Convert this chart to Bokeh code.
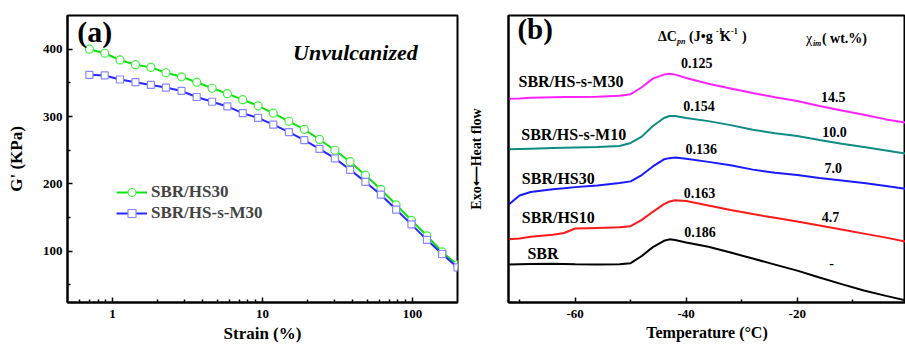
from bokeh.plotting import figure
from bokeh.layouts import row
from bokeh.models import FixedTicker, Legend, LegendItem, Range1d
from bokeh.core.properties import value
from bokeh.embed import file_html
from bokeh.resources import INLINE

# ---------------- Panel (a) data ----------------
strain = [0.70, 0.886, 1.12, 1.42, 1.80, 2.27, 2.88, 3.64, 4.61, 5.83, 7.38, 9.35,
          11.8, 15.0, 19.0, 24.0, 30.4, 38.4, 48.6, 61.6, 77.9, 98.6, 125, 158, 200]
g_hs30 = [400, 394, 384, 377, 373, 365, 359, 351, 342, 334, 325, 316,
          305, 293, 281, 266, 250, 233, 213, 192, 169, 146, 123, 99, 80]
g_hssm30 = [362, 361, 355, 351, 347, 343, 338, 329, 322, 315, 305, 298,
            288, 277, 265, 252, 238, 221, 203, 184, 162, 140, 117, 96, 76]
series_a = ["SBR/HS30", "SBR/HS-s-M30"]
strain_ticks = [1, 10, 100]
strain_minor = [0.6, 0.7, 0.8, 0.9, 2, 3, 4, 5, 6, 7, 8, 9, 20, 30, 40, 50, 60, 70, 80, 90]
g_ticks = [100, 200, 300, 400]
g_minor = [50, 150, 250, 350]

# ---------------- Panel (b) data ----------------
temp = [-72, -70, -68, -64, -62, -60, -56, -52, -50, -48, -46, -44, -43, -42, -40,
        -36, -32, -28, -24, -20, -16, -12, -8, -4, 0]
hf_sbr = [13.2, 13.3, 13.4, 13.5, 13.4, 13.3, 13.2, 13.3, 13.7, 16.2, 19.3, 21.5, 22.0, 21.8, 20.9,
          19.4, 17.4, 15.3, 13.2, 11.1, 8.7, 6.4, 4.2, 2.3, 0.5]
hf_hs10 = [22.0, 22.3, 22.9, 23.6, 24.2, 25.8, 26.0, 26.2, 26.6, 28.8, 31.6, 34.3, 35.2, 35.6, 35.4,
           33.8, 32.2, 30.8, 29.5, 28.2, 26.8, 25.4, 24.0, 22.6, 21.0]
hf_hs30 = [34.1, 37.3, 38.5, 39.5, 39.8, 40.2, 40.8, 41.6, 42.2, 44.4, 47.4, 49.9, 50.3, 50.5, 50.1,
           49.0, 47.8, 46.3, 45.2, 44.4, 43.4, 42.5, 41.6, 40.6, 39.5]
hf_m10 = [53.4, 53.5, 53.6, 53.8, 53.9, 54.0, 54.2, 54.5, 55.6, 57.8, 61.5, 64.3, 65.0, 65.0, 64.3,
          63.2, 61.8, 60.2, 59.0, 58.0, 56.6, 55.3, 54.2, 53.0, 51.7]
hf_m30 = [71.0, 71.1, 71.3, 71.5, 71.6, 71.6, 71.7, 72.0, 72.6, 75.0, 78.0, 79.4, 79.7, 79.4, 78.2,
          76.2, 74.6, 73.0, 71.5, 70.2, 68.5, 66.9, 65.4, 63.8, 62.5]
samples_b = ["SBR", "SBR/HS10", "SBR/HS30", "SBR/HS-s-M10", "SBR/HS-s-M30"]
dcp = ["0.186", "0.163", "0.136", "0.154", "0.125"]
chi = ["-", "4.7", "7.0", "10.0", "14.5"]
temp_ticks = [-60, -40, -20]
temp_tick_labels = ["-60", "-40", "-20"]
temp_minor = [-70, -50, -30, -10]

FONT = "Liberation Serif"


def style(p):
    p.outline_line_color = "black"
    p.outline_line_width = 2
    p.xgrid.visible = False
    p.ygrid.visible = False
    for ax in p.axis:
        ax.axis_line_width = 2
        ax.major_tick_in = 5
        ax.major_tick_out = 0
        ax.minor_tick_in = 3
        ax.minor_tick_out = 0
        ax.major_tick_line_width = 1.5
        ax.minor_tick_line_width = 1.5
        ax.major_label_text_font = FONT
        ax.major_label_text_font_style = "bold"
        ax.major_label_text_font_size = "13px"
        ax.major_label_text_color = "black"
        ax.axis_label_text_font = FONT
        ax.axis_label_text_font_style = "bold"
        ax.axis_label_text_color = "black"


# ---------------- Panel (a) ----------------
pa = figure(width=462, height=345, x_axis_type="log",
            x_range=Range1d(0.5, 200), y_range=Range1d(24, 450),
            output_backend="svg", toolbar_location=None,
            min_border_left=67, min_border_right=5, min_border_top=15, min_border_bottom=39)
style(pa)
pa.xaxis.ticker = FixedTicker(ticks=strain_ticks, minor_ticks=strain_minor)
pa.yaxis.ticker = FixedTicker(ticks=g_ticks, minor_ticks=g_minor)
pa.xaxis.major_label_overrides = {1: "1", 10: "10", 100: "100"}
pa.xaxis.axis_label = "Strain (%)"
pa.yaxis.axis_label = "G' (KPa)"
pa.xaxis.axis_label_text_font_size = "17px"
pa.yaxis.axis_label_text_font_size = "17px"
pa.xaxis.major_label_standoff = 7
pa.xaxis.axis_label_standoff = 3
pa.yaxis.major_label_standoff = 5
pa.yaxis.axis_label_standoff = 14

l1 = pa.line(strain, g_hs30, line_color="#10e010", line_width=2)
s1 = pa.scatter(strain, g_hs30, marker="circle", size=8, line_color="#40f040",
                fill_color="white", line_width=1.2)
l2 = pa.line(strain, g_hssm30, line_color="#2828ff", line_width=2)
s2 = pa.scatter(strain, g_hssm30, marker="square", size=7, line_color="#8888ff",
                fill_color="white", line_width=1.2)

legend = Legend(items=[LegendItem(label=series_a[0], renderers=[l1, s1]),
                       LegendItem(label=series_a[1], renderers=[l2, s2])],
                location=(49, 79), orientation="vertical")
legend.glyph_width = 31
legend.glyph_height = 20
legend.label_height = 20
legend.label_standoff = 4
legend.spacing = 1
legend.padding = 0
legend.margin = 0
legend.border_line_alpha = 0
legend.background_fill_alpha = 0
legend.label_text_font = FONT
legend.label_text_font_style = "bold"
legend.label_text_font_size = "17px"
pa.add_layout(legend)

pa.text(x=[0.58], y=[426], text=["(a)"], text_font=value(FONT), text_font_style="bold",
        text_font_size="30px", text_align="left", text_baseline="middle")
pa.text(x=[16.0], y=[395], text=["Unvulcanized"], text_font=value(FONT),
        text_font_style="bold italic", text_font_size="22px",
        text_align="left", text_baseline="middle")

# ---------------- Panel (b) ----------------
pb = figure(width=443, height=345, x_range=Range1d(-72, -0.5), y_range=Range1d(0, 100),
            output_backend="svg", toolbar_location=None,
            min_border_left=46, min_border_right=0, min_border_top=15, min_border_bottom=39)
style(pb)
pb.xaxis.ticker = FixedTicker(ticks=temp_ticks, minor_ticks=temp_minor)
pb.xaxis.major_label_overrides = dict(zip(temp_ticks, temp_tick_labels))
pb.yaxis.ticker = FixedTicker(ticks=[], minor_ticks=[])
pb.xaxis.axis_label = "Temperature (°C)"
pb.xaxis.axis_label_text_font_size = "16px"
pb.yaxis.axis_label = "Exo\u27f5Heat flow"
pb.yaxis.axis_label_text_font_size = "14px"
pb.yaxis.axis_label_standoff = 25
pb.xaxis.major_label_standoff = 7
pb.xaxis.axis_label_standoff = 3

curves = [hf_sbr, hf_hs10, hf_hs30, hf_m10, hf_m30]
colors = ["black", "#ff1a1a", "#1a1aff", "#0e8c84", "#ff22ff"]
for ys, c in zip(curves, colors):
    pb.line(temp, ys, line_color=c, line_width=2)

# sample names (left), ΔCpn values, χim values
pb.text(x=[-68.6, -69.6, -69.6, -69.7, -70.2], y=[17.1, 29.5, 43.2, 58.7, 77.1], text=samples_b,
        text_font=value(FONT), text_font_style="bold", text_font_size="16px",
        text_align="left", text_baseline="middle")
pb.text(x=[-37.5, -37.6, -37.3, -37.7, -38.1], y=[24.7, 38.3, 53.6, 68.5, 83.4], text=dcp,
        text_font=value(FONT), text_font_style="bold", text_font_size="14px",
        text_align="center", text_baseline="middle")
pb.text(x=[-13.8, -14.0, -13.5, -13.3, -13.5], y=[13.8, 29.7, 46.9, 59.5, 71.7], text=chi,
        text_font=value(FONT), text_font_style="bold", text_font_size="14px",
        text_align="center", text_baseline="middle")

# column headers
hx, hy = -45.06, 92.8
pb.text(x=[hx], y=[hy], text=["ΔC"], text_font=value(FONT), text_font_style="bold",
        text_font_size="14px", text_align="left", text_baseline="middle")
pb.text(x=[hx], y=[hy], text=["pn"], text_font=value(FONT), text_font_style="bold italic",
        text_font_size="8px", text_align="left", text_baseline="middle", x_offset=19, y_offset=5)
pb.text(x=[hx], y=[hy], text=["(J•g"], text_font=value(FONT), text_font_style="bold",
        text_font_size="14px", text_align="left", text_baseline="middle", x_offset=31)
pb.text(x=[hx, hx], y=[hy, hy], text=["-1", "-1"], text_font=value(FONT), text_font_style="bold",
        text_font_size="8px", text_align="left", text_baseline="middle",
        x_offset=[58, 73], y_offset=-5)
pb.text(x=[hx], y=[hy], text=["K"], text_font=value(FONT), text_font_style="bold",
        text_font_size="14px", text_align="left", text_baseline="middle", x_offset=62)
pb.text(x=[hx], y=[hy], text=[")"], text_font=value(FONT), text_font_style="bold",
        text_font_size="14px", text_align="left", text_baseline="middle", x_offset=84)

cx, cy = -18.44, 92.0
pb.text(x=[cx], y=[cy], text=["χ"], text_font=value(FONT),
        text_font_size="14px", text_align="left", text_baseline="middle")
pb.text(x=[cx], y=[cy], text=["im"], text_font=value(FONT), text_font_style="bold italic",
        text_font_size="8px", text_align="left", text_baseline="middle", x_offset=7, y_offset=5)
pb.text(x=[cx], y=[cy], text=["( wt.%)"], text_font=value(FONT), text_font_style="bold",
        text_font_size="14px", text_align="left", text_baseline="middle", x_offset=16)

pb.text(x=[-70.4], y=[95.4], text=["(b)"], text_font=value(FONT), text_font_style="bold",
        text_font_size="29px", text_align="left", text_baseline="middle")

layout = row(pa, pb, spacing=0)
open("out.html", "w").write(file_html(layout, INLINE))
